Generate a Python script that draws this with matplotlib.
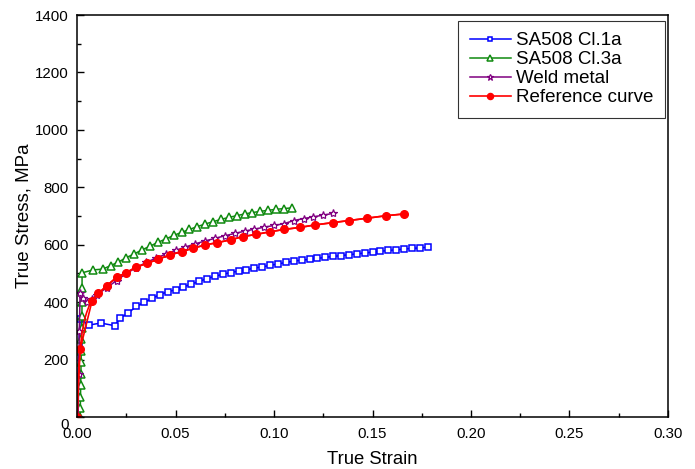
import matplotlib.pyplot as plt
from matplotlib.transforms import ScaledTranslation

plt.rcParams["font.family"] = ["Liberation Sans", "DejaVu Sans"]

# SA508 Cl.1a
cl1_strain = [0.0, 0.0008, 0.0015, 0.006, 0.012, 0.019,
              0.022, 0.026, 0.030, 0.034, 0.038, 0.042, 0.046, 0.050, 0.054, 0.058,
              0.062, 0.066, 0.070, 0.074, 0.078, 0.082, 0.086, 0.090, 0.094, 0.098,
              0.102, 0.106, 0.110, 0.114, 0.118, 0.122, 0.126, 0.130, 0.134, 0.138,
              0.142, 0.146, 0.150, 0.154, 0.158, 0.162, 0.166, 0.170, 0.174, 0.178]
cl1_stress = [0, 250, 340, 320, 327, 318,
              345, 362, 385, 399, 413, 426, 436, 443, 453, 463,
              472, 482, 490, 497, 503, 508, 513, 518, 523, 528,
              533, 538, 543, 546, 549, 552, 556, 559, 562, 565,
              568, 571, 574, 577, 580, 582, 585, 587, 589, 591]

# SA508 Cl.3a
cl3_strain = [0.0015, 0.0016, 0.0017, 0.0018, 0.0019, 0.0020, 0.0021, 0.0022,
              0.0023, 0.0024, 0.0025, 0.0025, 0.0025,
              0.008, 0.013, 0.017, 0.021, 0.025, 0.029, 0.033, 0.037, 0.041,
              0.045, 0.049, 0.053, 0.057, 0.061, 0.065, 0.069, 0.073, 0.077,
              0.081, 0.085, 0.089, 0.093, 0.097, 0.101, 0.105, 0.109]
cl3_stress = [0, 30, 70, 110, 150, 190, 230, 270,
              310, 350, 400, 450, 502,
              512, 515, 527, 540, 555, 568, 582, 595, 608,
              620, 632, 643, 653, 663, 672, 680, 688, 695,
              701, 707, 712, 716, 720, 723, 726, 728]

# Weld metal
weld_strain = [0.0005, 0.0008, 0.0011, 0.0015, 0.003, 0.005, 0.0075,
               0.010, 0.015, 0.020, 0.025, 0.030, 0.035, 0.040, 0.045, 0.050,
               0.055, 0.060, 0.065, 0.070, 0.075, 0.080, 0.085, 0.090, 0.095,
               0.100, 0.105, 0.110, 0.115, 0.120, 0.125, 0.130]
weld_stress = [0, 150, 300, 432, 415, 402, 410,
               425, 450, 475, 500, 520, 538, 553, 567, 580,
               592, 603, 613, 622, 631, 639, 647, 654, 661,
               667, 673, 684, 691, 697, 703, 709]

# Reference curve (markers and fitted line)
ref_strain = [0.0, 0.0015, 0.0076, 0.0108, 0.015, 0.020, 0.025, 0.030, 0.0355,
              0.041, 0.047, 0.053, 0.059, 0.065, 0.071, 0.078, 0.084, 0.091,
              0.098, 0.105, 0.113, 0.121, 0.130, 0.138, 0.147, 0.157, 0.166]
ref_stress = [0, 235, 405, 430, 457, 486, 503, 522, 535,
              549, 564, 576, 588, 599, 607, 617, 628, 636,
              645, 653, 660, 669, 677, 684, 692, 701, 707]
ref_line_strain = [0.0, 0.0005, 0.001, 0.0015, 0.0025, 0.0032, 0.004, 0.0049, 0.006]
ref_line_stress = [0, 120, 190, 235, 295, 318, 345, 365, 385]

fig = plt.figure(figsize=(6.95, 4.69), dpi=100)
ax = fig.add_axes([0.111, 0.111, 0.850, 0.857])

ax.plot(cl1_strain, cl1_stress, color="#0000ff", lw=1.1, marker="s", ms=4.2,
        mfc="white", mec="#0000ff", mew=1.1, label="SA508 Cl.1a")
ax.plot(cl3_strain, cl3_stress, color="#108a10", lw=1.1, marker="^", ms=5.5,
        mfc="white", mec="#108a10", mew=1.1, label="SA508 Cl.3a")
ax.plot(weld_strain, weld_stress, color="#800080", lw=1.1, marker="*", ms=6,
        mfc="white", mec="#800080", mew=0.9, label="Weld metal")
ax.plot(ref_line_strain + ref_strain[2:], ref_line_stress + ref_stress[2:],
        color="#ff0000", lw=1.2)
ax.plot(ref_strain, ref_stress, color="#ff0000", lw=1.2, marker="o", ms=5.5,
        label="Reference curve")

ax.set_xlim(0, 0.30)
ax.set_ylim(0, 1400)
ax.set_xticks([0.0, 0.05, 0.10, 0.15, 0.20, 0.25, 0.30])
ax.set_xticks([0.025, 0.075, 0.125, 0.175, 0.225, 0.275], minor=True)
ax.set_yticks(range(0, 1401, 200))
ax.set_yticks(range(100, 1400, 200), minor=True)
ax.set_xticklabels(["0.00", "0.05", "0.10", "0.15", "0.20", "0.25", "0.30"])
ax.tick_params(which="both", direction="in", top=False, right=False, labelsize=10.8)
ax.tick_params(axis="x", which="major", pad=7.5)
ax.tick_params(axis="y", which="major", pad=6)
ax.tick_params(which="major", length=5, width=1)
ax.tick_params(which="minor", length=3, width=1)
for s in ax.spines.values():
    s.set_linewidth(1.1)

# the "0" on the stress axis sits a little below the corner
fig.canvas.draw()
zero_lbl = ax.get_yticklabels()[0]
zero_lbl.set_transform(zero_lbl.get_transform()
                       + ScaledTranslation(0, -7 / 100, fig.dpi_scale_trans))

ax.set_xlabel("True Strain", fontsize=13.3, labelpad=7)
ax.set_ylabel("True Stress, MPa", fontsize=13.5, labelpad=2)

leg = ax.legend(loc="upper right", fontsize=13.5, frameon=True, fancybox=False,
                edgecolor="black", bbox_to_anchor=(665 / 695, 1 - 21 / 469),
                bbox_transform=fig.transFigure, borderaxespad=0,
                handlelength=2.2, handletextpad=0.3, labelspacing=0.1,
                borderpad=0.6, markerscale=0.8)
leg.get_frame().set_linewidth(0.8)

fig.savefig("out.png", dpi=100)
